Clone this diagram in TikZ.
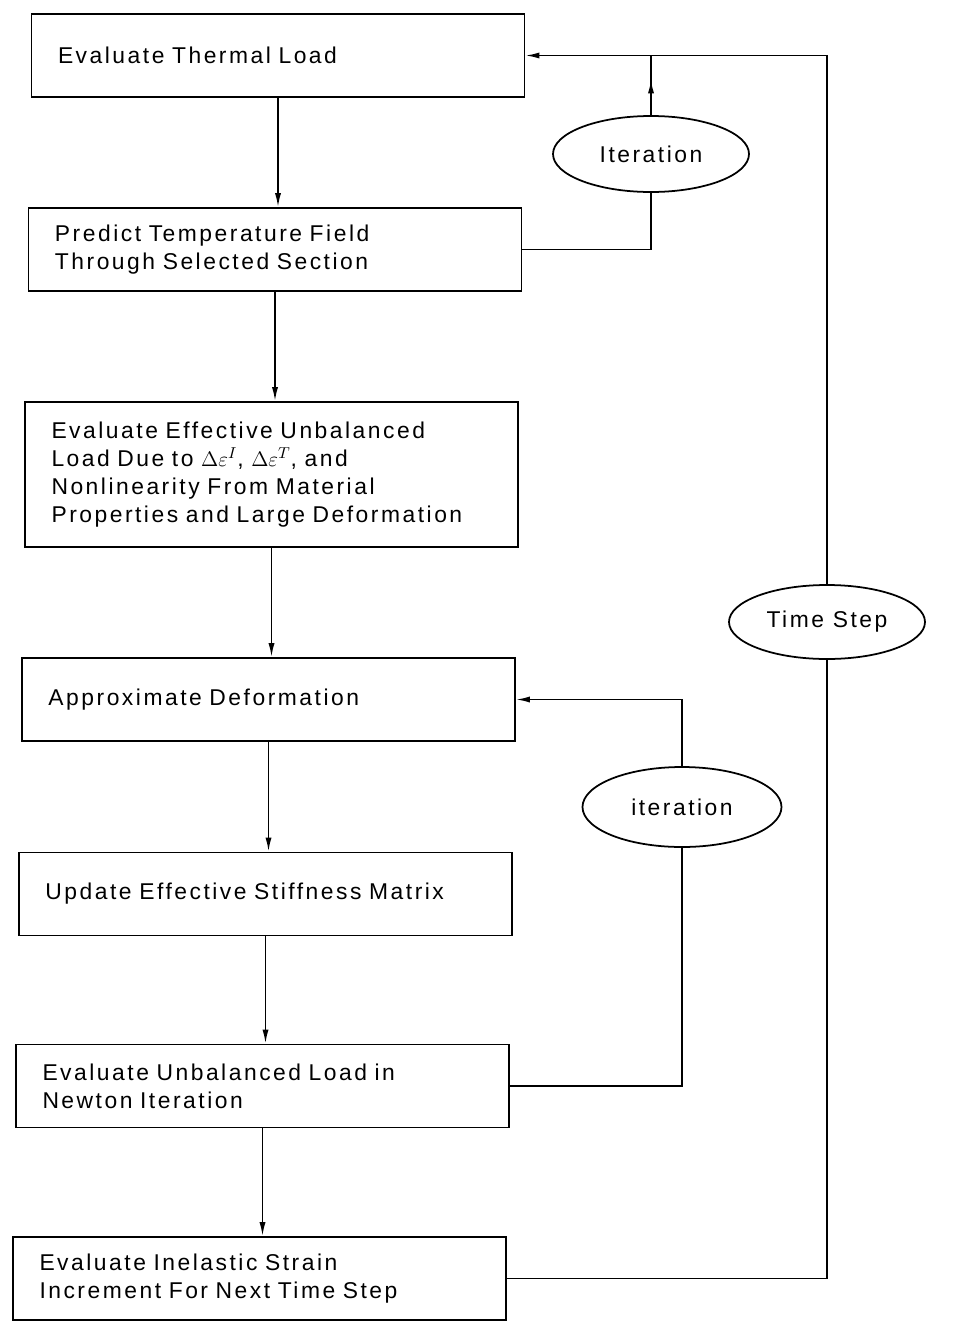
\documentclass[tikz,border=0pt]{standalone}
\usepackage{fontspec}
\setmainfont{Liberation Sans}[LetterSpace=11]
\usepackage{tikz}
\usetikzlibrary{calc,arrows.meta,shapes.geometric}
\tikzset{
	stepbox/.style={draw, line width=1pt, rectangle, minimum width=9.86cm, minimum height=1.66cm,
		text width=8.8cm, inner xsep=0.52cm, align=left, font=\fontsize{13}{16}\selectfont},
	loopoval/.style={draw, line width=1pt, ellipse, inner sep=0pt, font=\fontsize{13}{16}\selectfont},
	flowline/.style={line width=1pt},
	flowarrow/.style={line width=1pt, -{Latex[length=8pt,width=3.5pt]}}
}

\begin{document}
\begin{tikzpicture}
		%%%%% START %%%%%
		\useasboundingbox (0, 0) rectangle (19.2, -26.44);
		
		\node[stepbox] (thermal) at (5.56, -1.11) {Evaluate Thermal Load};
		\node[stepbox] (predict) at (5.50, -4.99) {Predict Temperature Field\\Through Selected Section};
		\node[stepbox, minimum height=2.9cm] (unbal) at (5.43, -9.49) {Evaluate Effective Unbalanced\\Load Due to $\Delta\varepsilon^{I}$, $\Delta\varepsilon^{T}$, and\\Nonlinearity From Material\\Properties and Large Deformation};
		\node[stepbox] (approx) at (5.37, -13.99) {Approximate Deformation};
		\node[stepbox] (stiff) at (5.31, -17.88) {Update Effective Stiffness Matrix};
		\node[stepbox] (newton) at (5.25, -21.72) {Evaluate Unbalanced Load in\\Newton Iteration};
		\node[stepbox] (inelastic) at (5.19, -25.57) {Evaluate Inelastic Strain\\Increment For Next Time Step};
		
		\node[loopoval, minimum width=3.92cm, minimum height=1.52cm] (iterA) at (13.02, -3.08) {Iteration};
		\node[loopoval, minimum width=3.92cm, minimum height=1.48cm] (tstep) at (16.54, -12.44) {Time Step};
		\node[loopoval, minimum width=3.98cm, minimum height=1.6cm] (iterB) at (13.64, -16.14) {iteration};
		
		% main flow
		\draw[flowarrow] (thermal.south) -- (thermal.south |- predict.north);
		\draw[flowarrow] (predict.south) -- (predict.south |- unbal.north);
		\draw[flowarrow] (unbal.south) -- (unbal.south |- approx.north);
		\draw[flowarrow] (approx.south) -- (approx.south |- stiff.north);
		\draw[flowarrow] (stiff.south) -- (stiff.south |- newton.north);
		\draw[flowarrow] (newton.south) -- (newton.south |- inelastic.north);
		
		% temperature iteration
		\draw[flowline] (predict.east) -| (iterA.south);
		\draw[flowline] (iterA.north) -- (iterA.north |- thermal.east);
		\draw[flowarrow] (iterA.north) -- ($(iterA.north)!0.6!(iterA.north |- thermal.east)$);
		
		% time step
		\draw[flowline] (inelastic.east) -| (tstep.south);
		\draw[flowarrow] (tstep.north) |- (thermal.east);
		
		% newton iteration
		\draw[flowline] (newton.east) -| (iterB.south);
		\draw[flowarrow] (iterB.north) |- (approx.east);
		
		%%%%% END %%%%%
	\end{tikzpicture}
\end{document}
